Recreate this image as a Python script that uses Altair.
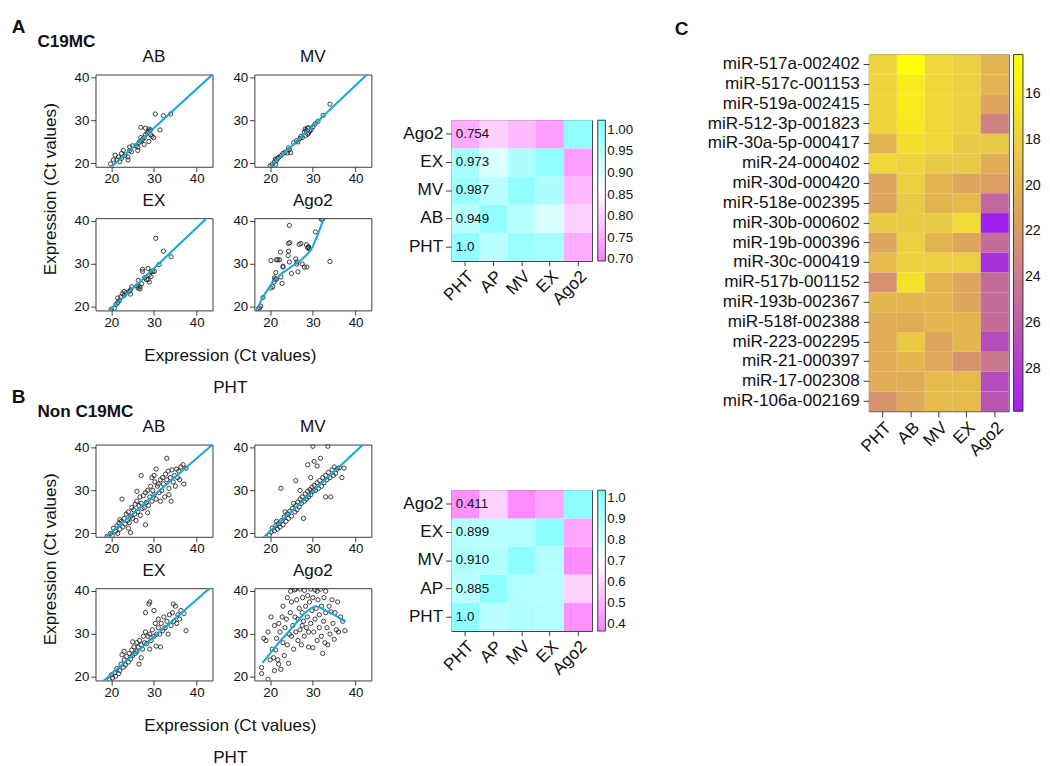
import altair as alt
import pandas as pd

FONT = "Liberation Sans"

# ---------------- Panel A (C19MC): (PHT Ct, sample Ct) ----------------
A_AB = [(19.8,19.9),(20.5,20.8),(20.9,21.9),(21.3,20.8),(21.7,21.5),(22.0,20.4),(22.4,22.3),(22.8,23.0),
        (22.4,21.2),(23.2,21.9),(23.9,20.8),(23.9,21.5),(24.3,23.0),(24.3,23.8),(24.7,22.7),(25.0,24.1),
        (25.8,24.1),(26.2,23.0),(26.2,23.8),(26.5,24.9),(26.9,25.2),(27.3,25.6),(26.9,26.0),(27.7,26.0),
        (27.7,24.4),(28.0,26.7),(28.4,27.1),(28.8,27.5),(26.9,28.4),(28.0,28.2),(28.8,28.0),(29.2,27.8),
        (29.2,26.7),(29.5,26.3),(29.9,26.0),(28.8,25.1),(30.3,31.5),(31.4,27.8),(32.2,31.1),(33.9,31.5)]
A_AB_LINE = [(16.0,15.5),(45.0,41.9)]

A_MV = [(20.0,19.4),(20.5,19.8),(21.0,20.3),(21.2,21.0),(21.5,20.8),(21.8,21.2),(21.3,19.8),(22.0,21.4),
        (22.5,21.8),(23.0,22.3),(23.5,22.6),(24.0,22.4),(24.5,23.2),(24.3,23.6),(24.8,22.5),(25.5,24.8),
        (26.2,25.3),(26.5,25.0),(27.0,25.8),(27.2,26.3),(27.5,26.0),(28.0,27.3),(28.2,28.0),(28.4,27.6),
        (28.7,28.2),(29.0,27.1),(28.8,26.8),(29.3,27.5),(29.6,27.9),(30.0,28.5),(30.5,29.2),(31.2,29.8),
        (32.4,31.2),(34.0,33.8),(29.0,28.3),(28.3,26.5)]
A_MV_LINE = [(16.0,15.5),(45.0,42.9)]

A_EX = [(20.0,19.5),(20.7,19.7),(21.1,20.6),(21.5,21.0),(21.5,22.1),(21.9,21.5),(22.2,22.4),(22.6,23.1),
        (23.0,22.7),(23.0,23.6),(23.4,23.3),(24.1,23.6),(24.5,24.0),(24.8,24.7),(24.5,23.0),(26.0,24.9),
        (26.3,24.4),(26.3,26.2),(26.7,24.2),(26.7,24.7),(27.1,25.4),(27.3,28.3),(27.3,28.8),(27.8,26.8),
        (28.2,26.4),(28.6,29.0),(28.6,26.4),(28.9,25.8),(29.3,27.1),(29.3,28.3),(29.7,28.3),(30.1,28.3),
        (30.4,36.0),(31.2,29.9),(32.2,33.0),(34.0,31.7),(28.9,27.5)]
A_EX_LINE = [(16.0,15.8),(45.0,43.2)]

A_AGO2 = [(17.2,19.5),(17.5,19.8),(17.8,20.2),(18.3,22.2),(20.2,24.4),(20.6,24.7),(20.9,25.8),(21.2,26.5),
          (21.0,26.8),(21.5,26.5),(21.3,28.0),(21.5,31.0),(21.8,31.0),(22.2,31.0),(23.0,29.3),(22.5,27.0),
          (22.8,25.5),(24.3,33.0),(24.2,32.0),(24.5,30.5),(24.3,34.8),(24.6,35.0),(24.5,39.0),(26.3,30.5),
          (26.0,31.2),(26.2,30.0),(26.5,28.2),(26.8,34.6),(27.2,34.8),(27.5,30.0),(28.0,29.3),(28.5,34.5),
          (28.8,33.8),(29.0,34.0),(29.2,33.5),(28.6,29.3),(29.0,33.9),(30.6,37.5),(32.0,40.4),(32.3,40.5),
          (34.0,30.6),(20.2,30.8),(23.0,29.5),(25.0,27.8),(22.4,32.8)]
A_AGO2_LINE = [(16.9,19.5),(18.4,22.5),(20.6,25.8),(22.8,27.9),(25.1,29.5),(27.3,31.0),(28.8,32.4),
               (29.9,33.9),(31.0,36.5),(32.4,40.2)]

# ---------------- Panel B (Non C19MC) ----------------
B_AB = [(19.0,19.3),(19.8,20.0),(20.2,19.5),(20.5,21.2),(21.0,20.5),(21.3,21.8),(21.5,20.0),(21.8,22.4),
        (22.0,21.0),(22.3,22.8),(22.5,28.0),(22.7,21.5),(23.0,23.5),(23.2,22.2),(23.5,24.5),(23.8,23.0),
        (24.0,25.0),(24.2,22.5),(24.5,20.2),(24.6,24.0),(24.8,26.0),(25.0,23.5),(25.2,25.5),(25.5,24.5),
        (25.6,26.8),(25.8,23.0),(26.0,27.5),(26.2,25.0),(26.5,26.5),(26.7,28.5),(26.8,24.2),(27.0,33.5),
        (27.0,27.0),(27.2,25.8),(27.5,28.8),(27.7,26.0),(28.0,22.0),(28.0,29.5),(28.2,27.2),(28.5,30.0),
        (28.7,26.5),(29.0,28.5),(29.2,31.0),(29.5,27.5),(29.7,30.0),(30.0,29.0),(30.2,32.0),(30.5,35.0),
        (30.5,28.0),(30.8,31.0),(31.0,31.5),(31.2,29.5),(31.5,32.5),(31.8,30.0),(32.0,33.0),(32.2,31.5),
        (32.5,28.5),(32.7,33.8),(33.0,37.5),(33.0,32.5),(33.3,34.5),(33.5,30.5),(33.8,33.0),(34.0,27.5),
        (34.2,34.8),(34.5,32.0),(34.8,33.5),(35.0,31.0),(35.3,35.0),(35.5,33.0),(35.8,34.5),(36.0,32.5),
        (36.3,35.5),(36.8,36.0),(37.0,31.5),(37.5,35.2),(30.0,33.5),(28.5,24.8),(26.0,29.8),(24.0,21.2),
        (22.0,23.2),(29.5,33.0),(31.5,27.5),(33.5,29.0)]
B_AB_LINE = [(16.0,16.8),(45.0,41.8)]

B_MV = [(19.8,19.6),(20.2,20.3),(20.5,21.2),(21.0,20.6),(21.3,21.8),(21.7,21.0),(22.0,22.3),(22.3,21.5),
        (22.5,30.5),(22.7,23.0),(23.0,22.0),(23.3,23.8),(23.7,22.8),(24.0,24.5),(24.3,23.5),(24.6,25.2),
        (25.0,24.0),(25.2,25.8),(25.5,27.0),(25.8,25.0),(26.0,26.5),(26.3,25.5),(26.5,27.3),(26.8,26.2),
        (27.0,28.0),(27.3,27.0),(27.5,28.5),(27.8,23.5),(28.0,27.5),(28.2,29.2),(28.5,28.0),(28.8,36.0),
        (28.8,29.8),(29.0,28.5),(29.3,30.2),(29.5,29.0),(29.8,30.8),(30.0,40.3),(30.0,29.8),(30.3,36.8),
        (30.3,31.2),(30.6,30.0),(31.0,35.7),(31.0,31.8),(31.3,30.5),(31.6,32.3),(31.8,37.5),(32.0,31.0),
        (32.3,33.0),(32.6,31.8),(33.0,33.5),(33.0,28.5),(33.3,32.5),(33.5,40.3),(33.6,34.2),(34.0,33.0),
        (34.2,28.5),(34.5,34.8),(34.8,33.5),(35.0,35.5),(35.3,34.0),(35.7,35.0),(36.2,35.3),(36.8,33.0),
        (37.3,35.2),(26.0,32.3),(27.0,30.0),(29.5,33.0),(23.5,25.0),(21.5,22.8)]
B_MV_LINE = [(16.0,16.8),(45.0,43.7)]

B_EX = [(19.5,19.3),(20.0,20.5),(20.3,19.8),(20.8,21.0),(21.0,20.2),(21.3,22.0),(21.7,20.8),(22.0,21.5),
        (22.3,23.0),(22.5,25.2),(22.8,22.3),(23.0,24.0),(23.3,22.8),(23.6,24.8),(24.0,23.5),(24.2,25.5),
        (24.5,24.2),(24.8,26.3),(25.0,25.0),(25.3,27.0),(25.6,25.5),(26.0,28.0),(26.0,26.0),(26.3,27.0),
        (26.5,23.0),(26.6,28.5),(27.0,27.5),(27.3,26.5),(27.5,29.5),(27.8,28.0),(28.0,35.0),(28.0,30.5),
        (28.3,27.8),(28.6,29.5),(28.8,37.0),(29.0,37.5),(29.0,30.0),(29.3,28.5),(29.6,31.0),(30.0,29.5),
        (30.0,35.5),(30.3,32.5),(30.6,30.0),(31.0,31.5),(31.0,33.5),(31.3,30.0),(31.5,27.0),(31.7,32.5),
        (32.0,30.8),(32.3,34.0),(32.6,31.5),(33.0,33.0),(33.3,30.0),(33.6,34.5),(34.0,32.0),(34.3,35.0),
        (34.5,37.0),(34.7,33.0),(35.0,36.5),(35.3,32.5),(35.6,34.5),(36.0,33.5),(36.3,35.5),(37.0,34.8),
        (37.5,30.8),(25.0,28.2),(27.0,24.5),(30.5,27.2),(23.0,26.0),(29.0,26.5)]
B_EX_LINE = [(16.0,17.2),(45.0,42.4)]

B_AGO2 = [(18.0,22.2),(18.0,20.8),(18.5,29.0),(19.0,28.5),(19.5,19.5),(19.5,30.5),(20.0,24.0),(20.2,34.0),
          (20.5,26.5),(20.8,24.5),(21.0,21.5),(21.0,32.0),(21.3,26.3),(21.5,29.0),(21.8,24.0),(22.0,32.5),
          (22.0,23.0),(22.3,30.5),(22.5,21.8),(22.8,34.0),(23.0,28.0),(23.0,36.5),(23.3,25.0),(23.5,31.5),
          (23.8,33.5),(24.0,27.5),(24.0,38.5),(24.3,23.2),(24.5,30.0),(24.7,35.0),(25.0,29.5),(25.0,37.5),
          (25.3,32.0),(25.5,26.5),(25.7,40.3),(25.8,34.0),(26.0,30.5),(26.2,38.0),(26.5,28.5),(26.5,33.5),
          (26.8,36.0),(27.0,40.5),(27.0,31.0),(27.3,27.5),(27.5,35.0),(27.6,38.5),(27.8,33.0),(28.0,29.5),
          (28.0,40.2),(28.3,36.5),(28.5,31.5),(28.7,34.0),(28.8,39.0),(29.0,27.0),(29.2,37.5),(29.5,32.5),
          (29.5,40.5),(29.8,35.5),(30.0,26.8),(30.0,38.5),(30.2,30.5),(30.5,33.5),(30.5,40.3),(30.8,36.0),
          (31.0,28.5),(31.2,38.0),(31.5,31.5),(31.5,34.5),(31.8,40.5),(32.0,29.5),(32.0,36.5),(32.3,25.5),
          (32.5,33.0),(32.6,38.5),(32.8,28.0),(33.0,35.0),(33.0,40.0),(33.3,31.5),(33.5,27.5),(33.8,36.5),
          (34.0,30.0),(34.2,35.2),(34.5,38.0),(34.7,32.5),(35.0,28.8),(35.2,35.0),(35.5,31.0),(35.8,37.5),
          (36.0,30.5),(36.5,34.0),(37.0,33.0),(37.5,30.8),(26.0,40.5),(24.8,40.0),(31.0,40.0),(27.5,32.0),
          (29.0,30.5)]
B_AGO2_LINE = [(18.2,23.3),(20.0,25.5),(22.0,28.0),(24.0,30.2),(26.0,32.5),(28.0,34.8),(29.5,36.0),
               (30.5,36.5),(31.5,36.3),(33.0,35.5),(35.0,34.5),(37.5,33.0)]

SCATTER_TITLES = ["AB", "MV", "EX", "Ago2"]
TICKS = [20, 25, 30, 35, 40]
XDOM = [16.3, 43.7]
YDOM = [19.2, 40.7]

# ---------------- Correlation heatmaps ----------------
HEAT_Y = ["PHT", "AB", "MV", "EX", "Ago2"]          # bottom -> top
HEAT_X = ["PHT", "AP", "MV", "EX", "Ago2"]
HEAT_YB = ["PHT", "AP", "MV", "EX", "Ago2"]
CORR_A = [[1.000, 0.949, 0.987, 0.973, 0.754],
          [0.949, 1.000, 0.950, 0.905, 0.800],
          [0.987, 0.950, 1.000, 0.965, 0.770],
          [0.973, 0.905, 0.965, 1.000, 0.735],
          [0.754, 0.800, 0.770, 0.735, 1.000]]
CORR_A_TXT = ["1.0", "0.949", "0.987", "0.973", "0.754"]
CORR_B = [[1.000, 0.885, 0.910, 0.899, 0.411],
          [0.885, 1.000, 0.900, 0.890, 0.580],
          [0.910, 0.900, 1.000, 0.900, 0.400],
          [0.899, 0.890, 0.900, 1.000, 0.470],
          [0.411, 0.580, 0.400, 0.470, 1.000]]
CORR_B_TXT = ["1.0", "0.885", "0.910", "0.899", "0.411"]
LEG_A = [0.70, 0.75, 0.80, 0.85, 0.90, 0.95, 1.00]
LEG_B = [0.4, 0.5, 0.6, 0.7, 0.8, 0.9, 1.0]

# ---------------- Panel C ----------------
MIRS = ["miR-517a-002402", "miR-517c-001153", "miR-519a-002415", "miR-512-3p-001823",
        "miR-30a-5p-000417", "miR-24-000402", "miR-30d-000420", "miR-518e-002395",
        "miR-30b-000602", "miR-19b-000396", "miR-30c-000419", "miR-517b-001152",
        "miR-193b-002367", "miR-518f-002388", "miR-223-002295", "miR-21-000397",
        "miR-17-002308", "miR-106a-002169"]
C_COLS = ["PHT", "AB", "MV", "EX", "Ago2"]
CT = [[17.8, 14.5, 17.5, 18.0, 20.0],
      [17.8, 16.0, 17.5, 18.0, 20.0],
      [17.8, 16.0, 17.5, 18.0, 21.0],
      [17.8, 16.3, 17.5, 18.0, 23.5],
      [20.0, 17.0, 17.5, 18.5, 18.5],
      [17.5, 17.8, 18.5, 18.5, 20.5],
      [21.0, 18.0, 20.0, 21.0, 21.5],
      [21.0, 18.5, 20.0, 19.5, 25.5],
      [18.5, 18.5, 18.5, 17.3, 29.8],
      [21.0, 18.0, 20.0, 21.0, 25.0],
      [19.5, 18.0, 18.0, 18.0, 28.8],
      [22.5, 16.8, 20.0, 21.0, 25.0],
      [19.8, 19.8, 19.8, 21.0, 25.0],
      [20.5, 20.5, 19.8, 19.8, 25.0],
      [20.5, 18.5, 21.0, 19.8, 27.0],
      [20.5, 19.8, 20.8, 22.3, 24.3],
      [20.5, 20.5, 19.5, 19.5, 27.0],
      [22.3, 20.8, 19.5, 19.5, 26.5]]
LEG_C = [16, 18, 20, 22, 24, 26, 28]
C_DOM = [14.3, 16, 18, 20, 22, 24, 26, 28, 29.9]
C_RANGE = ["#FFFF00", "#F8EC1C", "#EDD040", "#E2B450", "#D89868", "#CB7C88", "#BC5EA8", "#AD3ECE", "#A020F0"]

PLOT_W, PLOT_H = 123, 97


def scatter(pts, line, name):
    dp = pd.DataFrame(pts, columns=["x", "y"])
    dl = pd.DataFrame(line, columns=["x", "y"])
    ax = dict(values=TICKS, title=None, grid=False, domain=False, ticks=True, tickSize=5,
              tickColor="#333", labelFontSize=14, labelColor="#111", labelFont=FONT)
    x = alt.X("x:Q", scale=alt.Scale(domain=XDOM, nice=False, zero=False), axis=alt.Axis(labelPadding=1, **ax))
    y = alt.Y("y:Q", scale=alt.Scale(domain=YDOM, nice=False, zero=False), axis=alt.Axis(labelPadding=2, **ax))
    p = alt.Chart(dp).mark_point(shape="circle", filled=False, size=20, strokeWidth=0.9,
                                 color="#222", opacity=1, clip=True).encode(x=x, y=y)
    l = alt.Chart(dl).mark_line(color="#1AA7E1", strokeWidth=2.2, clip=True).encode(x="x:Q", y="y:Q")
    return alt.layer(p, l).properties(
        width=PLOT_W, height=PLOT_H,
        title=alt.TitleParams(name, font=FONT, fontSize=18, fontWeight="normal", offset=5, color="#111"))


def spacer(w, h):
    return alt.Chart(pd.DataFrame({"v": [0]})).mark_point(opacity=0, size=0).encode(
        x=alt.value(0), y=alt.value(0)).properties(width=w, height=h,
                                                   view=alt.ViewBackground(stroke="transparent"))


def corr_heat(ylabs, M, txt, dom, vals, fmt):
    recs = []
    for i, rl in enumerate(ylabs):
        for j, cl in enumerate(HEAT_X):
            recs.append({"r": rl, "c": cl, "v": M[i][j]})
    df = pd.DataFrame(recs)
    tdf = pd.DataFrame({"r": ylabs, "c": ["PHT"] * len(ylabs), "t": txt})
    xenc = alt.X("c:N", sort=HEAT_X, scale=alt.Scale(paddingInner=0, paddingOuter=0),
                 axis=alt.Axis(title=None, labelAngle=-45, labelFontSize=18, labelFont=FONT, domain=False,
                               tickSize=5, tickColor="#333", labelColor="#111", labelPadding=2))
    yenc = alt.Y("r:N", sort=list(reversed(ylabs)), scale=alt.Scale(paddingInner=0, paddingOuter=0),
                 axis=alt.Axis(title=None, labelFontSize=18, labelFont=FONT, domain=False,
                               tickSize=6, tickColor="#333", labelColor="#111", labelPadding=3))
    rect = alt.Chart(df).mark_rect().encode(
        x=xenc, y=yenc,
        color=alt.Color("v:Q", scale=alt.Scale(domain=dom, range=["#FF80FF", "#FFFFFF", "#80FFFF"],
                                               interpolate="rgb", nice=False, zero=False),
                        legend=alt.Legend(title=None, values=vals, format=fmt, gradientLength=148,
                                          gradientThickness=8, offset=6, labelFontSize=14, labelFont=FONT,
                                          gradientStrokeColor="#333", gradientStrokeWidth=1, labelColor="#111")))
    text = alt.Chart(tdf).mark_text(align="left", dx=-10, fontSize=14, font=FONT, color="#111").encode(
        x=alt.X("c:N", sort=HEAT_X), y=alt.Y("r:N", sort=list(reversed(ylabs))), text="t:N")
    return alt.layer(rect, text).properties(width=148, height=148)


def block(sets, sub, letter, heat):
    charts = [scatter(p, l, n) for (p, l), n in zip(sets, SCATTER_TITLES)]
    grid = alt.vconcat(alt.hconcat(charts[0], charts[1], spacing=19),
                       alt.hconcat(charts[2], charts[3], spacing=19), spacing=5)
    w1 = alt.vconcat(grid, title=alt.TitleParams("Expression (Ct values)", orient="left", font=FONT, fontSize=18,
                                                 fontWeight="normal", offset=14, anchor="middle", color="#111"))
    w2 = alt.vconcat(w1, title=alt.TitleParams(["Expression (Ct values)", "PHT"], orient="bottom", font=FONT,
                                               fontSize=18, fontWeight="normal", lineHeight=33, offset=19,
                                               anchor="middle", dx=24, color="#111"))
    w3 = alt.vconcat(w2, title=alt.TitleParams(sub, font=FONT, fontSize=18, fontWeight="bold", anchor="start",
                                               frame="bounds", dx=-6, offset=-2, color="#111"))
    hcol = alt.vconcat(spacer(148, 46), heat, spacing=0).resolve_scale(color="independent")
    return alt.hconcat(w3, hcol, spacing=31,
                       title=alt.TitleParams(letter, font=FONT, fontSize=20, fontWeight="bold", anchor="start",
                                             frame="bounds", dx=-27, offset=-4, color="#111")
                       ).resolve_scale(color="independent")


panelA = block([(A_AB, A_AB_LINE), (A_MV, A_MV_LINE), (A_EX, A_EX_LINE), (A_AGO2, A_AGO2_LINE)], "C19MC", "A",
               corr_heat(HEAT_Y, CORR_A, CORR_A_TXT, [0.697, 0.86, 1.022], LEG_A, ".2f"))
panelB = block([(B_AB, B_AB_LINE), (B_MV, B_MV_LINE), (B_EX, B_EX_LINE), (B_AGO2, B_AGO2_LINE)], "Non C19MC", "B",
               corr_heat(HEAT_YB, CORR_B, CORR_B_TXT, [0.369, 0.70, 1.036], LEG_B, ".1f"))
panelsAB = alt.vconcat(panelA, panelB, spacing=-10).resolve_scale(color="independent")
left = alt.vconcat(spacer(1, 1), panelsAB, spacing=-12).resolve_scale(color="independent")

recs = []
for i, m in enumerate(MIRS):
    for j, c in enumerate(C_COLS):
        recs.append({"m": m, "c": c, "v": CT[i][j]})
dfc = pd.DataFrame(recs)
NEG_DOM = [-d for d in reversed(C_DOM)]
heatC = alt.Chart(dfc).transform_calculate(nv="-datum.v").mark_rect().encode(
    x=alt.X("c:N", sort=C_COLS, scale=alt.Scale(paddingInner=0, paddingOuter=0),
            axis=alt.Axis(title=None, labelAngle=-45, labelFontSize=18, labelFont=FONT, domain=False, tickSize=6,
                          tickColor="#333", labelColor="#111", labelPadding=2)),
    y=alt.Y("m:N", sort=MIRS, scale=alt.Scale(paddingInner=0, paddingOuter=0),
            axis=alt.Axis(title=None, labelFontSize=18, labelFont=FONT, domain=False, tickSize=6,
                          tickColor="#333", labelColor="#111", labelPadding=4)),
    color=alt.Color("nv:Q", scale=alt.Scale(domain=NEG_DOM, range=list(reversed(C_RANGE)), interpolate="rgb",
                                            nice=False, zero=False),
                    legend=alt.Legend(title=None, values=[-v for v in LEG_C], labelExpr="-datum.value",
                                      gradientLength=375, gradientThickness=10, offset=5,
                                      labelFontSize=15, labelFont=FONT, gradientStrokeColor="#333",
                                      gradientStrokeWidth=1, labelColor="#111"))
).properties(width=147, height=375,
             title=alt.TitleParams("C", font=FONT, fontSize=20, fontWeight="bold", anchor="start", frame="bounds",
                                   dx=-34, offset=17, color="#111"))
right = alt.vconcat(spacer(147, 1), heatC, spacing=-11).resolve_scale(color="independent")

chart = alt.hconcat(left, right, spacing=41).resolve_scale(color="independent").properties(
    padding={"left": 3, "top": -10, "right": 0, "bottom": 0}
).configure(font=FONT).configure_view(stroke="#333", strokeWidth=1)

chart.save("out.html", embed_options={"renderer": "svg", "actions": False})
